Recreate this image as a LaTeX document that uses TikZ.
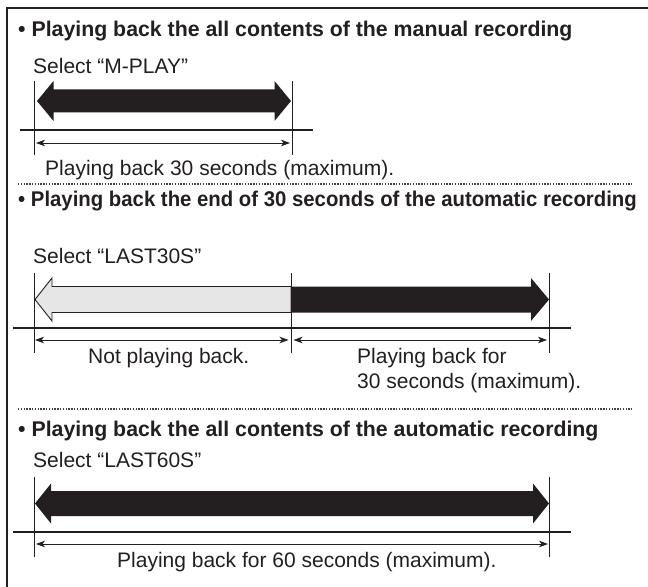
\documentclass[tikz,border=0pt]{standalone}
\usepackage{fontspec}
\usepackage{graphicx}
\setmainfont{Liberation Sans}
\usetikzlibrary{arrows.meta}
\definecolor{ink}{HTML}{231F20}
\definecolor{lightfill}{HTML}{E6E6E6}
\tikzset{
  titletext/.style={anchor=base west, inner sep=0pt, font=\fontsize{21.3bp}{24bp}\selectfont\bfseries, text=ink},
  plaintext/.style={anchor=base west, inner sep=0pt, font=\fontsize{21bp}{25bp}\selectfont, text=ink},
  ticklin/.style={draw=ink, line width=0.8bp},
  timeline/.style={draw=ink, line width=2.2bp},
  dimline/.style={draw=ink, line width=0.8bp, {Stealth[length=9bp,width=6.5bp,inset=2.5bp]}-{Stealth[length=9bp,width=6.5bp,inset=2.5bp]}},
  sepline/.style={draw=ink!85, line width=1.4bp, dash pattern=on 1.3bp off 1.5bp},
  framelin/.style={draw=ink, line width=2.2bp},
  bigblack/.style={fill=ink},
  biggrey/.style={fill=lightfill, draw=ink, line width=0.9bp, line join=miter},
}
\begin{document}
\begin{tikzpicture}[x=1bp,y=-1bp]
\useasboundingbox (0,0) rectangle (648,587);
% frame
\coordinate (fTL) at (7,8);
\coordinate (fTR) at (648,8);
\coordinate (fBL) at (7,587);
\draw[framelin] (fTR) -- (fTL) -- (fBL);

% ---------------- section 1
\node[titletext] (t1) at (18,37) {• Playing back the all contents of the manual recording};
\node[plaintext] (s1) at (33,74) {Select “M-PLAY”};
\coordinate (k1at) at (34,81);  \coordinate (k1ab) at (34,155);
\coordinate (k1bt) at (292,81); \coordinate (k1bb) at (292,155);
\draw[ticklin] (k1at) -- (k1ab);
\draw[ticklin] (k1bt) -- (k1bb);
\fill[bigblack] (37,101) -- (53.5,81) -- (53.5,89.5) -- (274.5,89.5) -- (274.5,81) -- (291,101)
   -- (274.5,121) -- (274.5,112.5) -- (53.5,112.5) -- (53.5,121) -- cycle;
\coordinate (l1a) at (20,130); \coordinate (l1b) at (313,130);
\draw[timeline] (l1a) -- (l1b);
\coordinate (d1a) at (36,143); \coordinate (d1b) at (290,143);
\draw[dimline] (d1a) -- (d1b);
\node[plaintext] (p1) at (45,176) {Playing back 30 seconds (maximum).};
\coordinate (sep1a) at (18,184); \coordinate (sep1b) at (632,184);
\draw[sepline] (sep1a) -- (sep1b);

% ---------------- section 2
\node[titletext] (t2) at (18,206) {\scalebox{0.955}[1]{• Playing back the end of 30 seconds of the automatic recording}};
\node[plaintext] (s2) at (33,263) {Select “LAST30S”};
\coordinate (k2at) at (34,273);  \coordinate (k2ab) at (34,353);
\coordinate (k2bt) at (291,273); \coordinate (k2bb) at (291,353);
\coordinate (k2ct) at (549,273); \coordinate (k2cb) at (549,353);
\draw[biggrey] (35,299.5) -- (52,278) -- (52,286.5) -- (291,286.5) -- (291,312.5) -- (52,312.5) -- (52,321) -- cycle;
\fill[bigblack] (291,286.5) -- (531,286.5) -- (531,278) -- (549,299.5) -- (531,321) -- (531,312.5) -- (291,312.5) -- cycle;
\draw[ticklin] (k2at) -- (k2ab);
\draw[ticklin] (k2bt) -- (k2bb);
\draw[ticklin] (k2ct) -- (k2cb);
\coordinate (l2a) at (13,328); \coordinate (l2b) at (571,328);
\draw[timeline] (l2a) -- (l2b);
\coordinate (d2a) at (35,340); \coordinate (d2b) at (288.5,340);
\coordinate (d2c) at (293.5,340); \coordinate (d2d) at (547,340);
\draw[dimline] (d2a) -- (d2b);
\draw[dimline] (d2c) -- (d2d);
\node[plaintext] (n2) at (88,363) {Not playing back.};
\node[plaintext] (p2a) at (357,363) {Playing back for};
\node[plaintext] (p2b) at (357,388) {30 seconds (maximum).};
\coordinate (sep2a) at (18,409); \coordinate (sep2b) at (632,409);
\draw[sepline] (sep2a) -- (sep2b);

% ---------------- section 3
\node[titletext] (t3) at (18,436) {• Playing back the all contents of the automatic recording};
\node[plaintext] (s3) at (33,467) {Select “LAST60S”};
\coordinate (k3at) at (34,477);  \coordinate (k3ab) at (34,557);
\coordinate (k3bt) at (549,477); \coordinate (k3bb) at (549,557);
\fill[bigblack] (35,503.5) -- (51,483.5) -- (51,491) -- (533,491) -- (533,483.5) -- (549,503.5)
   -- (533,523.5) -- (533,516) -- (51,516) -- (51,523.5) -- cycle;
\draw[ticklin] (k3at) -- (k3ab);
\draw[ticklin] (k3bt) -- (k3bb);
\coordinate (l3a) at (13,532); \coordinate (l3b) at (571,532);
\draw[timeline] (l3a) -- (l3b);
\coordinate (d3a) at (36,544); \coordinate (d3b) at (548,544);
\draw[dimline] (d3a) -- (d3b);
\node[plaintext] (p3) at (117,567) {Playing back for 60 seconds (maximum).};
\end{tikzpicture}
\end{document}
